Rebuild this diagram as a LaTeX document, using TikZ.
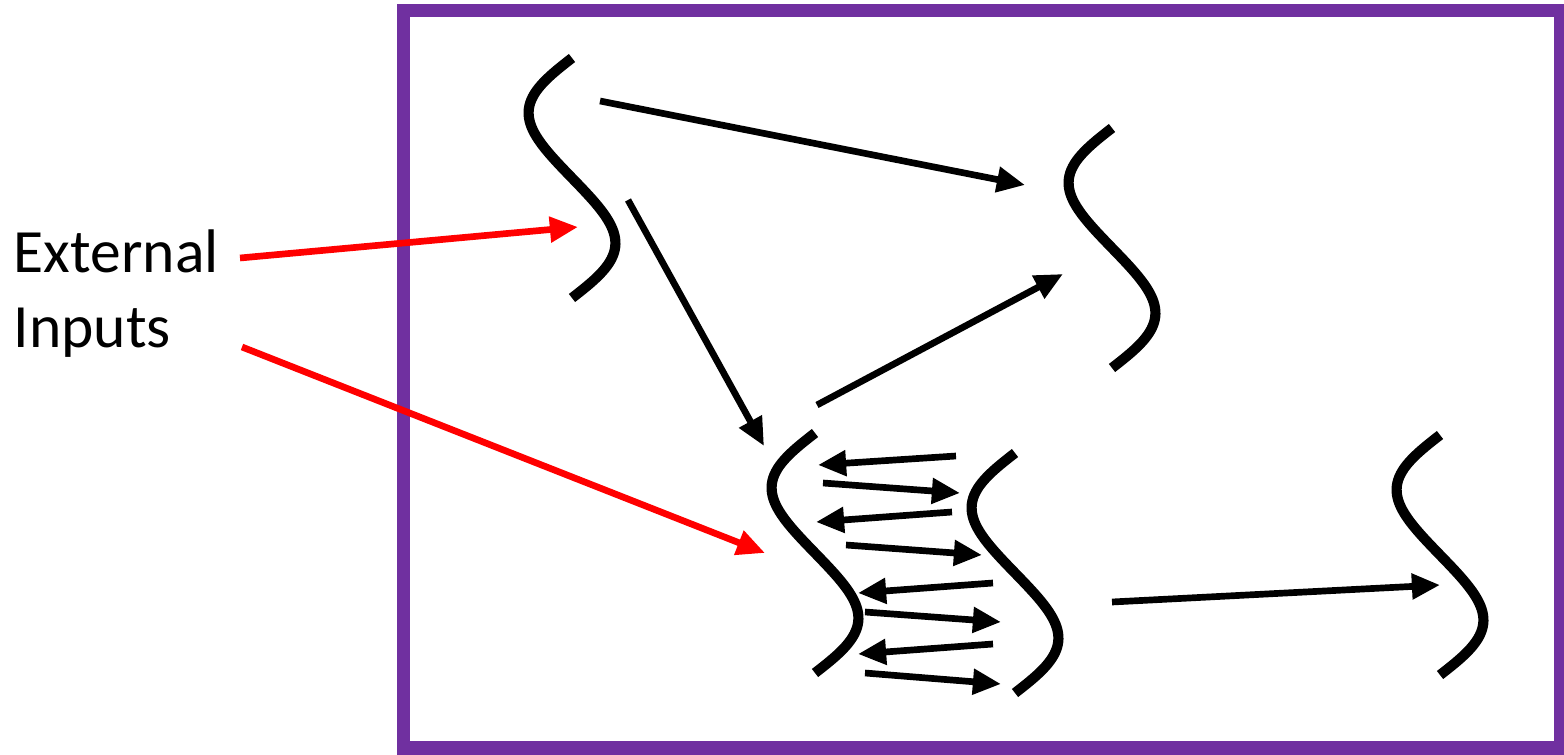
\documentclass[tikz,border=0pt]{standalone}
\usepackage{fontspec}
\setmainfont{Carlito}
\usetikzlibrary{arrows.meta}
\definecolor{framepurple}{RGB}{112,48,160}

\begin{document}
\begin{tikzpicture}[x=0.01cm,y=-0.01cm,
  every node/.style={font=\fontsize{17.5}{21.6}\selectfont},
  pics/wave/.style={code={
    \draw[line width=2.9pt] plot[domain=0:240, samples=81, smooth]
      ({-43*sin(1.5*\x)-3*sin(3*\x)},\x);}},
  link/.style={line width=1.9pt,-{Triangle[length=8pt,width=7pt]}},
  input/.style={link,red}]
\useasboundingbox (0,0) rectangle (1564,755);
\draw[line width=3.7pt, draw=framepurple] (403,11) rectangle (1560,748);

\node[anchor=base west, align=left, inner sep=0] (ext) at (13,348) {External\\Inputs};

% the five waves
\pic at (572,58) {wave};
\pic at (1112,128) {wave};
\pic at (815,433) {wave};
\pic at (1015,453) {wave};
\pic at (1440,435) {wave};

% arrow ends
\coordinate (in1) at (240,258);
\coordinate (in1e) at (578,227);
\coordinate (in2) at (242,347);
\coordinate (in2e) at (765,553);
\coordinate (a1) at (600,101);
\coordinate (a1e) at (1025,185);
\coordinate (a2) at (628,200);
\coordinate (a2e) at (764,446);
\coordinate (a3) at (817,405);
\coordinate (a3e) at (1063,274);
\coordinate (a4) at (1112,602);
\coordinate (a4e) at (1440,585);

\draw[input] (in1) -- (in1e);
\draw[input] (in2) -- (in2e);
\draw[link] (a1) -- (a1e);
\draw[link] (a2) -- (a2e);
\draw[link] (a3) -- (a3e);
\draw[link] (a4) -- (a4e);

% back and forth between the middle waves
\foreach \i/\sx/\sy/\ex/\ey in {1/956/456/818/465, 2/823/483/960/493,
    3/952/512/816/522, 4/846/545/982/555, 5/993/583/858/593,
    6/865/612/1001/622, 7/993/644/858/654, 8/865/673/1001/684} {
  \coordinate (l\i) at (\sx,\sy);
  \coordinate (l\i e) at (\ex,\ey);
  \draw[link] (l\i) -- (l\i e);
}
\end{tikzpicture}
\end{document}
